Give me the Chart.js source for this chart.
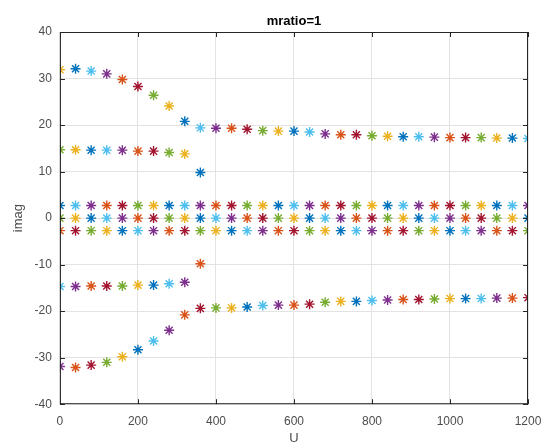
<!DOCTYPE html>
<html>
<head>
<meta charset="utf-8">
<script src="https://cdn.jsdelivr.net/npm/chart.js@4"></script>
<style>
  html, body { margin: 0; padding: 0; background: #fff; }
  #wrap { width: 543px; height: 444px; }
</style>
</head>
<body>
<div id="wrap"><canvas id="chart"></canvas></div>
<script>
// U values (x axis)
const uValues = [0, 40, 80, 120, 160, 200, 240, 280, 320, 360, 400, 440, 480, 520, 560, 600,
  640, 680, 720, 760, 800, 840, 880, 920, 960, 1000, 1040, 1080, 1120, 1160, 1200];

// imag parts, one list per branch
const upperBranch = [31.9, 32.1, 31.6, 31.0, 29.8, 28.3, 26.4, 24.1, 20.8, 19.4, 19.3, 19.3, 19.1, 18.8, 18.7, 18.7,
  18.5, 18.1, 17.9, 17.9, 17.7, 17.6, 17.5, 17.5, 17.4, 17.3, 17.3, 17.3, 17.2, 17.2, 17.1];
const upperMid = [14.7, 14.7, 14.6, 14.6, 14.6, 14.4, 14.4, 14.1, 13.8, 9.8];
const innerTop = 2.7;
const innerZero = 0;
const innerBottom = -2.7;
const lowerMid = [-14.7, -14.7, -14.6, -14.6, -14.6, -14.4, -14.4, -14.1, -13.8, -9.8];
const lowerBranch = [-31.9, -32.1, -31.6, -31.0, -29.8, -28.3, -26.4, -24.1, -20.8, -19.4, -19.3, -19.3, -19.1, -18.8, -18.7, -18.7,
  -18.5, -18.1, -17.9, -17.9, -17.7, -17.6, -17.5, -17.5, -17.4, -17.3, -17.3, -17.3, -17.2, -17.2, -17.1];

const xTicks = [0, 200, 400, 600, 800, 1000, 1200];
const yTicks = [-40, -30, -20, -10, 0, 10, 20, 30, 40];

// MATLAB default colour order
const colorOrder = ['#0072BD', '#D95319', '#EDB120', '#7E2F8E', '#77AC30', '#4DBEEE', '#A2142F'];

function series(values) {
  return values.map((v, i) => ({ x: uValues[i], y: v }));
}
function constant(v) {
  return uValues.map(u => ({ x: u, y: v }));
}

// colour order continues from one U to the next, so each row starts at its own offset
const rows = [
  { data: series(upperBranch), start: 2 },
  { data: series(upperMid), start: 4 },
  { data: constant(innerTop), start: 0 },
  { data: constant(innerZero), start: 4 },
  { data: constant(innerBottom), start: 1 },
  { data: series(lowerMid), start: 5 },
  { data: series(lowerBranch), start: 3 }
];

const datasets = rows.map(r => ({
  data: r.data,
  showLine: false,
  pointStyle: 'star',
  pointRadius: 5,
  pointHoverRadius: 5,
  pointBorderWidth: 1.4,
  pointBorderColor: ctx => colorOrder[(r.start + 5 * ctx.dataIndex) % 7],
  pointBackgroundColor: ctx => colorOrder[(r.start + 5 * ctx.dataIndex) % 7]
}));

// box around the axes, inward ticks and the title, MATLAB style
const axesBox = {
  id: 'axesBox',
  afterDraw(chart) {
    const { ctx, chartArea: a, scales } = chart;
    ctx.save();
    ctx.strokeStyle = '#262626';
    ctx.lineWidth = 1;
    ctx.strokeRect(a.left + 0.5, a.top + 0.5, a.right - a.left - 1, a.bottom - a.top - 1);
    ctx.beginPath();
    xTicks.forEach(t => {
      const px = Math.round(scales.x.getPixelForValue(t)) + 0.5;
      ctx.moveTo(px, a.bottom); ctx.lineTo(px, a.bottom - 5);
      ctx.moveTo(px, a.top); ctx.lineTo(px, a.top + 5);
    });
    yTicks.forEach(t => {
      const py = Math.round(scales.y.getPixelForValue(t)) + 0.5;
      ctx.moveTo(a.left, py); ctx.lineTo(a.left + 5, py);
      ctx.moveTo(a.right, py); ctx.lineTo(a.right - 5, py);
    });
    ctx.stroke();
    ctx.fillStyle = '#000';
    ctx.font = 'bold 13px "Liberation Sans", Arial, sans-serif';
    ctx.textAlign = 'center';
    ctx.textBaseline = 'alphabetic';
    ctx.fillText('mratio=1', (a.left + a.right) / 2, a.top - 7);
    ctx.restore();
  }
};

const tickFont = { family: '"Liberation Sans", Arial, sans-serif', size: 12 };

new Chart(document.getElementById('chart'), {
  type: 'scatter',
  data: { datasets },
  plugins: [axesBox],
  options: {
    responsive: true,
    maintainAspectRatio: false,
    animation: false,
    layout: { padding: { top: 32, right: 15, bottom: 0, left: 11 } },
    plugins: {
      legend: { display: false },
      tooltip: { enabled: false }
    },
    scales: {
      x: {
        type: 'linear',
        min: 0,
        max: 1200,
        afterBuildTicks: axis => { axis.ticks = xTicks.map(v => ({ value: v })); },
        afterFit: axis => { axis.paddingRight = 0; },
        grid: { color: '#e3e3e3', drawTicks: false },
        border: { display: false },
        ticks: { color: '#4d4d4d', font: tickFont, padding: 10, maxRotation: 0, callback: v => String(v) },
        title: { display: true, text: 'U', color: '#4d4d4d', font: { ...tickFont, size: 13, lineHeight: 0.8 }, padding: { top: -5, bottom: 0 } }
      },
      y: {
        type: 'linear',
        min: -40,
        max: 40,
        afterBuildTicks: axis => { axis.ticks = yTicks.map(v => ({ value: v })); },
        grid: { color: '#e3e3e3', drawTicks: false },
        border: { display: false },
        ticks: { color: '#4d4d4d', font: tickFont, padding: 8 },
        title: { display: true, text: 'imag', color: '#4d4d4d', font: { ...tickFont, size: 13 }, padding: { top: 0, bottom: 0 } }
      }
    }
  }
});
</script>
</body>
</html>
